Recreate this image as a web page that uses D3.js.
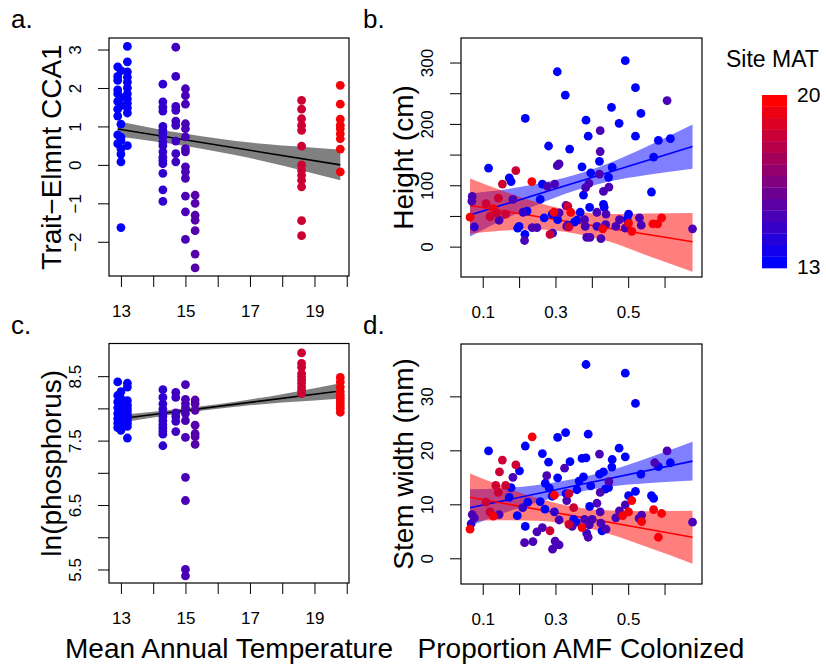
<!DOCTYPE html>
<html><head><meta charset="utf-8">
<script src="https://cdn.jsdelivr.net/npm/d3@7"></script>
<style>body{margin:0;background:#fff}svg{display:block}text{font-family:"Liberation Sans",Arial,sans-serif;fill:#000}</style>
</head><body><svg id="chart" width="826" height="664"></svg>
<script>
// ---------- DATA ----------
// Panel a: Trait-Elmnt CCA1 by site MAT
const aSiteMAT = [12.9, 13.0, 13.2, 14.3, 14.7, 15.0, 15.3, 18.6, 19.8];
const aValues = [
  [2.55, 2.3, 2.2, 1.95, 1.85, 1.65, 1.45, 1.27, 0.78, 0.55],
  [2.45, 1.75, 1.55, 1.06, 0.72, 0.64, 0.42, 0.28, 0.08, -1.63],
  [3.08, 2.68, 2.42, 2.28, 2.15, 2.0, 1.85, 1.72, 1.6, 1.48, 1.35, 0.5],
  [2.1, 1.64, 1.5, 1.4, 1.0, 0.9, 0.82, 0.73, 0.6, 0.5, 0.34, 0.2, 0.12, 0.03, -0.22, -0.65, -0.95],
  [3.06, 2.3, 1.52, 1.42, 1.14, 1.03, 0.62, 0.29, 0.08],
  [1.98, 1.8, 1.58, 1.07, 0.94, 0.73, 0.42, 0.34, -0.05, -0.18, -0.35, -0.81, -1.22, -1.94],
  [-0.79, -1.0, -1.31, -1.44, -1.71, -2.32, -2.68],
  [1.68, 1.45, 1.2, 1.03, 0.9, 0.49, 0.0, -0.14, -0.27, -0.4, -0.57, -1.45, -1.84],
  [2.07, 1.58, 1.19, 1.03, 0.94, 0.81, 0.68, 0.41, -0.18]
];
const aFitX = [12.9, 19.8], aFitY = [0.935, 0.0];
const aBandX = [12.9, 14, 15, 16, 17, 18, 19, 19.8];
const aBandLo = [0.735, 0.615, 0.489, 0.344, 0.179, -0.017, -0.232, -0.4];
const aBandHi = [1.135, 0.955, 0.809, 0.684, 0.579, 0.503, 0.448, 0.4];

// Panel c: ln(phosphorus) by site MAT
const cSiteMAT = [12.9, 13.0, 13.2, 14.3, 14.7, 15.0, 15.3, 18.6, 19.8];
const cValues = [
  [8.41, 8.2, 8.1, 8.01, 7.92, 7.84, 7.77, 7.7],
  [8.26, 8.15, 8.05, 7.97, 7.87, 7.81, 7.73, 7.66],
  [8.39, 8.33, 8.12, 8.05, 8.0, 7.95, 7.9, 7.87, 7.82, 7.77, 7.72, 7.54],
  [8.29, 8.17, 8.07, 7.99, 7.92, 7.87, 7.81, 7.75, 7.7, 7.65, 7.6, 7.42],
  [8.25, 8.17, 7.93, 7.87, 7.8, 7.64],
  [8.37, 8.14, 8.07, 8.01, 7.92, 7.81, 7.55, 6.93, 6.57, 5.5, 5.4],
  [8.13, 8.07, 7.97, 7.74, 7.61, 7.56, 7.44],
  [8.86, 8.7, 8.64, 8.54, 8.49, 8.44, 8.39, 8.33, 8.28, 8.23],
  [8.48, 8.41, 8.33, 8.26, 8.2, 8.15, 8.1, 8.05, 8.0, 7.94]
];
const cFitX = [12.9, 19.8], cFitY = [7.835, 8.27];
const cBandX = [12.9, 14, 15, 16, 17, 18, 19, 19.8];
const cBandLo = [7.77, 7.859, 7.932, 7.995, 8.048, 8.091, 8.124, 8.15];
const cBandHi = [7.9, 7.949, 8.002, 8.065, 8.138, 8.221, 8.314, 8.39];

// Panel b: Height (cm) vs proportion AMF colonized
const bAMF = [0.116,0.173,0.178,0.217,0.196,0.2,0.222,0.216,0.258,0.264,0.281,0.305,0.327,0.339,0.306,0.291,0.269,0.359,0.373,0.377,0.384,0.39,0.397,0.421,0.446,0.456,0.454,0.475,0.492,0.501,0.52,0.52,0.535,0.564,0.57,0.583,0.616,0.368,0.352,0.394,0.432,0.434,0.497,
  0.071,0.07,0.077,0.145,0.183,0.215,0.211,0.236,0.249,0.278,0.298,0.31,0.305,0.292,0.31,0.329,0.334,0.382,0.38,0.392,0.383,0.423,0.423,0.421,0.432,0.447,0.414,0.414,0.439,0.438,0.425,0.466,0.476,0.492,0.531,0.536,0.607,0.677,0.386,0.331,0.395,
  0.065,0.109,0.12,0.129,0.138,0.143,0.154,0.163,0.191,0.235,0.285,0.296,0.334,0.337,0.342,0.43,0.51,0.501,0.568,0.581,0.592];
const bHeight = [128,112,106,209,30,33,58,20,77,102,164,285,247,159,44,53,47,43,130,84,206,180,120,139,113,129,227,201,303,53,259,180,217,89,146,173,176,56,40,64,69,64,45,
  82,74,32,43,77,10,56,31,31,98,102,135,132,22,55,67,35,33,44,103,96,189,155,118,90,97,56,33,53,36,13,33,44,30,47,35,238,29,15,33,15,
  48,70,49,62,55,79,102,53,124,106,20,56,66,32,56,29,25,38,37,37,47];
const bMAT = [13,13,13,13,13,13,13,13,13,13,13,13,13,13,13,13,13,13,13,13,13,13,13,13,13,13,13,13,13,13,13,13,13,13,13,13,13,13,13,13,13,13,13,
  15,15,14.3,15,15,15,14.3,15,15,15,15,15,15,14.3,15,15,14.3,15,15,15,15,15,15,15,15,15,15,14.3,15,15,15,15,15,15,15,15,15,15,15,15,15,
  19.8,18.6,18.6,19.8,18.6,18.6,18.6,18.6,18.6,19.8,18.6,19.8,18.6,18.6,19.8,19.8,19.8,19.8,19.8,19.8,19.8];
const bBlueFitX = [0.065, 0.677], bBlueFitY = [51.6, 163];
const bRedFitX = [0.065, 0.677], bRedFitY = [67, 8];
const bBandX = [0.065, 0.15, 0.25, 0.35, 0.45, 0.55, 0.677];
const bBlueLo = [16.6, 42.1, 68.3, 90.5, 106.7, 116.9, 127];
const bBlueHi = [86.6, 92.1, 102.3, 116.5, 136.7, 162.9, 199];
const bRedLo = [21, 26, 28, 22, 8, -14, -41];
const bRedHi = [111, 92, 72, 58, 53, 54, 55];

// Panel d: Stem width (mm) vs proportion AMF colonized
const dAMF = [0.116,0.178,0.173,0.195,0.201,0.217,0.224,0.217,0.258,0.264,0.271,0.272,0.281,0.283,0.291,0.306,0.306,0.328,0.34,0.329,0.359,0.365,0.373,0.377,0.384,0.384,0.39,0.394,0.397,0.421,0.432,0.437,0.446,0.456,0.455,0.475,0.492,0.492,0.501,0.52,0.52,0.535,0.564,0.57,0.583,0.616,0.357,0.35,0.428,
  0.071,0.068,0.077,0.145,0.183,0.21,0.215,0.238,0.249,0.264,0.276,0.292,0.297,0.299,0.31,0.31,0.325,0.331,0.346,0.38,0.386,0.39,0.393,0.401,0.414,0.421,0.423,0.423,0.425,0.439,0.447,0.466,0.476,0.492,0.53,0.537,0.573,0.607,0.677,
  0.065,0.109,0.12,0.129,0.136,0.143,0.146,0.154,0.163,0.191,0.236,0.285,0.297,0.337,0.337,0.35,0.373,0.485,0.501,0.51,0.537,0.57,0.592,0.583];
const dWidth = [19.9,13.1,11.3,7.9,16.2,20.8,10.4,5.9,10.5,19.4,9.1,13.9,17.8,13,11.5,22.4,14.9,23.3,17.9,12,12.7,14.3,18.5,15.1,18.6,35.9,23,9.6,13.4,15.6,16,12.8,13.1,18.3,16.9,20.4,18.8,34.3,11.6,28.7,12.4,15.6,11.6,11.1,17,17.7,6.7,7.2,5.1,
  8.1,6.4,7.5,8.1,15,9.4,2.9,3.1,4.9,5.7,15.3,1.7,8.6,3.2,2.5,7.1,16.7,10.7,5.9,7.2,4.6,3.9,6.2,7.2,10.2,19.3,12.2,8.6,6.5,5.4,14.2,7.5,8.8,9.9,7.4,8,17.7,19.9,6.7,
  5.4,10.4,8.6,7.8,13.5,12.2,16,18.2,13.5,17.3,22.5,5.1,11.7,12,6.3,9.4,5.7,7.9,8.6,10.7,6.8,9,8.3,3.9];
const dMAT = [13,13,13,13,13,13,13,13,13,13,13,13,13,13,13,13,13,13,13,13,13,13,13,13,13,13,13,13,13,13,13,13,13,13,13,13,13,13,13,13,13,13,13,13,13,13,13,13,13,
  15,14.3,15,15,15,14.3,15,15,15,15,15,15,14.3,15,15,15,15,15,15,15,14.3,15,15,15,15,15,15,15,15,15,15,15,15,15,15,15,15,15,15,
  19.8,18.6,18.6,19.8,18.6,18.6,18.6,18.6,18.6,18.6,19.8,18.6,19.8,18.6,18.6,18.6,19.8,19.8,19.8,19.8,19.8,19.8,19.8,19.8];
const dBlueFitX = [0.065, 0.677], dBlueFitY = [9.37, 18.0];
const dRedFitX = [0.065, 0.677], dRedFitY = [11.3, 3.9];
const dBandX = [0.065, 0.15, 0.25, 0.35, 0.45, 0.55, 0.677];
const dBlueLo = [5.97, 8.17, 10.38, 12.09, 13.3, 13.9, 14.4];
const dBlueHi = [12.77, 12.97, 13.58, 14.69, 16.3, 18.5, 21.6];
const dRedLo = [6.9, 7.07, 6.96, 6.15, 4.44, 2.13, -1.0];
const dRedHi = [15.7, 13.47, 11.16, 9.55, 8.84, 8.73, 8.8];

// Axis ticks / labels
const matTicks = [13, 14, 15, 16, 17, 18, 19, 20];
const matLabels = [13, 15, 17, 19];
const amfTicks = [0.1, 0.2, 0.3, 0.4, 0.5, 0.6];
const amfLabels = [0.1, 0.3, 0.5];
const aYTicks = [-2, -1, 0, 1, 2, 3];
const cYTicks = [5.5, 6, 6.5, 7, 7.5, 8, 8.5];
const cYLabels = [5.5, 6.5, 7.5, 8.5];
const bYTicks = [0, 50, 100, 150, 200, 250, 300];
const bYLabels = [0, 100, 200, 300];
const dYTicks = [0, 10, 20, 30];
const legendRange = [13, 20];

// ---------- DRAW ----------
const svg = d3.select("#chart");
const col = d3.scaleLinear().domain(legendRange).range(["#0000ff", "#ff0000"]).interpolate(d3.interpolateRgb).clamp(true);
const fmtMinus = d => String(d).replace("-", "\u2212");
let clipId = 0;

function makePanel(o) {
  const x = d3.scaleLinear().domain(o.xd).range([o.left, o.right]);
  const y = d3.scaleLinear().domain(o.yd).range([o.bottom, o.top]);
  const id = "clip" + (clipId++);
  svg.append("clipPath").attr("id", id).append("rect")
    .attr("x", o.left).attr("y", o.top).attr("width", o.right - o.left).attr("height", o.bottom - o.top);
  const plot = svg.append("g").attr("clip-path", `url(#${id})`);
  // x axis
  const xa = svg.append("g").attr("transform", `translate(0,${o.bottom})`)
    .call(d3.axisBottom(x).tickValues(o.xTicks).tickSize(11).tickPadding(18)
      .tickFormat(d => o.xLabels.some(v => Math.abs(v - d) < 1e-9) ? fmtMinus(d) : ""));
  xa.select(".domain").remove();
  xa.selectAll("line").attr("stroke", "#000");
  xa.selectAll("text").attr("font-size", 17).attr("font-family", '"Liberation Sans",Arial,sans-serif');
  // y axis
  const ya = svg.append("g").attr("transform", `translate(${o.left},0)`)
    .call(d3.axisLeft(y).tickValues(o.yTicks).tickSize(11)
      .tickFormat(d => o.yLabels.some(v => Math.abs(v - d) < 1e-9) ? fmtMinus(d) : ""));
  ya.select(".domain").remove();
  ya.selectAll("line").attr("stroke", "#000");
  ya.selectAll("text").attr("font-size", 17).attr("font-family", '"Liberation Sans",Arial,sans-serif')
    .attr("x", null).attr("dy", "0.35em").attr("text-anchor", "middle")
    .attr("transform", "translate(-34,0) rotate(-90)");
  // box
  svg.append("rect").attr("x", o.left).attr("y", o.top).attr("width", o.right - o.left).attr("height", o.bottom - o.top)
    .attr("fill", "none").attr("stroke", "#000").attr("stroke-width", 1.2);
  // y title
  svg.append("text").attr("transform", `translate(${o.left - 48},${(o.top + o.bottom) / 2}) rotate(-90)`)
    .attr("text-anchor", "middle").attr("font-size", 28).text(o.yTitle);
  // letter
  svg.append("text").attr("x", o.letterX).attr("y", o.letterY).attr("font-size", 26).text(o.letter);
  return { x, y, plot };
}

function band(p, xs, lo, hi, fill) {
  const data = xs.map((v, i) => ({ x: v, lo: lo[i], hi: hi[i] }));
  p.plot.append("path").datum(data)
    .attr("d", d3.area().x(d => p.x(d.x)).y0(d => p.y(d.lo)).y1(d => p.y(d.hi)).curve(d3.curveMonotoneX))
    .attr("fill", fill).attr("stroke", "none");
}
function fit(p, xs, ys, stroke) {
  p.plot.append("path").datum(xs.map((v, i) => [v, ys[i]]))
    .attr("d", d3.line().x(d => p.x(d[0])).y(d => p.y(d[1])))
    .attr("fill", "none").attr("stroke", stroke).attr("stroke-width", 1.6);
}
function sitePoints(p, sites, values) {
  const pts = [];
  sites.forEach((s, i) => values[i].forEach(v => pts.push([s, v])));
  p.plot.append("g").selectAll("circle").data(pts).join("circle")
    .attr("cx", d => p.x(d[0])).attr("cy", d => p.y(d[1])).attr("r", 4.4).attr("fill", d => col(d[0]));
}
function xyPoints(p, xs, ys, mats) {
  const pts = xs.map((v, i) => [v, ys[i], mats[i]]);
  p.plot.append("g").selectAll("circle").data(pts).join("circle")
    .attr("cx", d => p.x(d[0])).attr("cy", d => p.y(d[1])).attr("r", 4.4).attr("fill", d => col(d[2]));
}

// Panel a
const pa = makePanel({ left: 109, right: 349, top: 38, bottom: 276, xd: [12.63, 20.07], yd: [-2.89, 3.3],
  xTicks: matTicks, xLabels: matLabels, yTicks: aYTicks, yLabels: aYTicks,
  yTitle: "Trait\u2212Elmnt CCA1", letter: "a.", letterX: 11, letterY: 28 });
band(pa, aBandX, aBandLo, aBandHi, "#808080");
fit(pa, aFitX, aFitY, "#000");
sitePoints(pa, aSiteMAT, aValues);

// Panel b
const pb = makePanel({ left: 461, right: 702, top: 38, bottom: 277, xd: [0.0402, 0.703], yd: [-49.5, 340],
  xTicks: amfTicks, xLabels: amfLabels, yTicks: bYTicks, yLabels: bYLabels,
  yTitle: "Height (cm)", letter: "b.", letterX: 363, letterY: 28 });
band(pb, bBandX, bBlueLo, bBlueHi, "rgba(0,0,255,0.5)");
band(pb, bBandX, bRedLo, bRedHi, "rgba(255,0,0,0.5)");
fit(pb, bBlueFitX, bBlueFitY, "#0000ff");
fit(pb, bRedFitX, bRedFitY, "#ff0000");
xyPoints(pb, bAMF, bHeight, bMAT);

// Panel c
const pc = makePanel({ left: 109, right: 349, top: 343.5, bottom: 583, xd: [12.63, 20.07], yd: [5.29, 9.007],
  xTicks: matTicks, xLabels: matLabels, yTicks: cYTicks, yLabels: cYLabels,
  yTitle: "ln(phosphorus)", letter: "c.", letterX: 11, letterY: 334 });
band(pc, cBandX, cBandLo, cBandHi, "#808080");
fit(pc, cFitX, cFitY, "#000");
sitePoints(pc, cSiteMAT, cValues);

// Panel d
const pd = makePanel({ left: 461, right: 702, top: 344, bottom: 584, xd: [0.0402, 0.703], yd: [-4.76, 39.7],
  xTicks: amfTicks, xLabels: amfLabels, yTicks: dYTicks, yLabels: dYTicks,
  yTitle: "Stem width (mm)", letter: "d.", letterX: 363, letterY: 334 });
band(pd, dBandX, dBlueLo, dBlueHi, "rgba(0,0,255,0.5)");
band(pd, dBandX, dRedLo, dRedHi, "rgba(255,0,0,0.5)");
fit(pd, dBlueFitX, dBlueFitY, "#0000ff");
fit(pd, dRedFitX, dRedFitY, "#ff0000");
xyPoints(pd, dAMF, dWidth, dMAT);

// x titles
svg.append("text").attr("x", 229).attr("y", 658).attr("text-anchor", "middle").attr("font-size", 28).text("Mean Annual Temperature");
svg.append("text").attr("x", 581).attr("y", 658).attr("text-anchor", "middle").attr("font-size", 28).text("Proportion AMF Colonized");

// Legend
const nSteps = 15;
const ly = d3.scaleLinear().domain([0, nSteps]).range([268, 95]);
const lg = svg.append("g");
d3.range(nSteps).forEach(i => {
  const v = legendRange[0] + (legendRange[1] - legendRange[0]) * i / (nSteps - 1);
  lg.append("rect").attr("x", 762).attr("width", 25)
    .attr("y", ly(i + 1)).attr("height", ly(i) - ly(i + 1) + 0.3).attr("fill", col(v));
});
svg.append("text").attr("x", 726).attr("y", 66.5).attr("font-size", 23).text("Site MAT");
svg.append("text").attr("x", 797).attr("y", 102).attr("font-size", 21).text(legendRange[1]);
svg.append("text").attr("x", 797).attr("y", 274).attr("font-size", 21).text(legendRange[0]);
</script></body></html>
